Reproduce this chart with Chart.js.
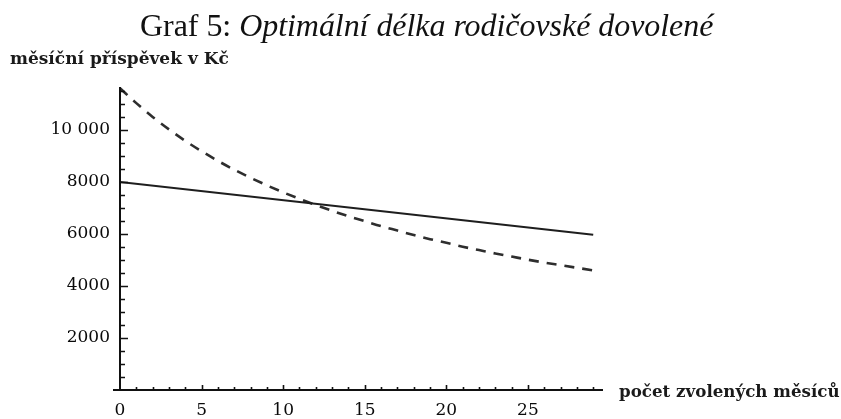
<!DOCTYPE html>
<html>
<head>
<meta charset="utf-8">
<script src="https://cdn.jsdelivr.net/npm/chart.js@4.4.1/dist/chart.umd.min.js"></script>
<style>
  html, body { margin: 0; padding: 0; background: #fff; }
  #wrap { position: relative; width: 841px; height: 419px; overflow: hidden; }
  #c { position: absolute; left: 0; top: 0; }
  .t { position: absolute; white-space: nowrap; color: #111; }
  #title { left: 140px; top: 9px; font-family: "Liberation Serif", "Times New Roman", serif; font-size: 32px; line-height: 32px; letter-spacing: -0.05px; }
  #title i { font-style: italic; }
  #ytitle { left: 10px; top: 50px; font-family: "DejaVu Serif", serif; font-size: 17px; font-weight: bold; line-height: 17px; color: #1a1a1a; }
  #xtitle { left: 619px; top: 383px; font-family: "DejaVu Serif", serif; font-size: 16.7px; font-weight: bold; line-height: 17px; color: #1a1a1a; }
</style>
</head>
<body>
<div id="wrap">
  <canvas id="c" width="841" height="419"></canvas>
  <div class="t" id="title">Graf 5: <i>Optimální délka rodičovské dovolené</i></div>
  <div class="t" id="ytitle">měsíční příspěvek v Kč</div>
  <div class="t" id="xtitle">počet zvolených měsíců</div>
</div>
<script>
// ---- data ----
const solidMonths = [0, 29];
const solidValues = [8000, 5970];

const dashedMonths = [0,1,2,3,4,5,6,7,8,9,10,11,12,13,14,15,16,17,18,19,20,21,22,23,24,25,26,27,28,29];
const dashedValues = [11600,11030,10500,10020,9580,9180,8810,8470,8160,7870,7600,7350,7110,6890,6680,6490,6300,6130,5960,5800,5660,5510,5380,5250,5130,5010,4900,4800,4700,4600];

const xTickValues = [0, 5, 10, 15, 20, 25];
const yTickValues = [2000, 4000, 6000, 8000, 10000];
const xMinorValues = [1,2,3,4,6,7,8,9,11,12,13,14,16,17,18,19,21,22,23,24,26,27,28,29];
const yMinorValues = [500,1000,1500,2500,3000,3500,4500,5000,5500,6500,7000,7500,8500,9000,9500,10500,11000,11500];

const toPoints = (xs, ys) => xs.map((x, i) => ({ x: x, y: ys[i] }));

function fmt(v) {
  const s = String(v);
  return s.length > 4 ? s.slice(0, s.length - 3) + ' ' + s.slice(-3) : s;
}

const axisPlugin = {
  id: 'mathAxes',
  afterDatasetsDraw(chart) {
    const ctx = chart.ctx;
    const xs = chart.scales.x, ys = chart.scales.y;
    const x0 = xs.getPixelForValue(0);
    const y0 = ys.getPixelForValue(0);
    ctx.save();
    ctx.strokeStyle = '#111';
    ctx.lineCap = 'butt';
    ctx.lineWidth = 2;
    ctx.beginPath();
    ctx.moveTo(x0, y0 + 1);
    ctx.lineTo(x0, ys.top);
    ctx.moveTo(x0 - 7, y0);
    ctx.lineTo(xs.right, y0);
    ctx.stroke();
    ctx.lineWidth = 1.6;
    ctx.beginPath();
    yTickValues.forEach(v => { const p = Math.round(ys.getPixelForValue(v)) + 0.5; ctx.moveTo(x0, p); ctx.lineTo(x0 + 8, p); });
    yMinorValues.forEach(v => { const p = Math.round(ys.getPixelForValue(v)) + 0.5; ctx.moveTo(x0, p); ctx.lineTo(x0 + 5, p); });
    xTickValues.forEach(v => { if (v === 0) return; const p = Math.round(xs.getPixelForValue(v)) + 0.5; ctx.moveTo(p, y0); ctx.lineTo(p, y0 - 5); });
    xMinorValues.forEach(v => { const p = Math.round(xs.getPixelForValue(v)) + 0.5; ctx.moveTo(p, y0); ctx.lineTo(p, y0 - 3); });
    ctx.stroke();
    ctx.restore();
  }
};

new Chart(document.getElementById('c'), {
  type: 'scatter',
  data: {
    datasets: [
      {
        data: toPoints(solidMonths, solidValues),
        showLine: true,
        borderColor: '#1e1e1e',
        borderWidth: 2,
        pointRadius: 0,
        tension: 0
      },
      {
        data: toPoints(dashedMonths, dashedValues),
        showLine: true,
        borderColor: '#2e2e2e',
        borderWidth: 2.6,
        borderDash: [10, 8],
        pointRadius: 0,
        cubicInterpolationMode: 'monotone',
        tension: 0.4
      }
    ]
  },
  options: {
    responsive: false,
    animation: false,
    events: [],
    layout: { padding: { left: 0, right: 238, top: 87, bottom: 0 } },
    plugins: { legend: { display: false }, tooltip: { enabled: false }, title: { display: false } },
    scales: {
      x: {
        type: 'linear',
        min: 0,
        max: 29.6,
        grid: { display: false, drawTicks: false },
        border: { display: false },
        afterBuildTicks: s => { s.ticks = xTickValues.map(v => ({ value: v })); },
        afterFit: s => { s.height = 29; },
        ticks: {
          autoSkip: false,
          maxRotation: 0,
          padding: 10,
          color: '#0a0a0a',
          font: { family: '"DejaVu Serif", serif', size: 17 },
          callback: v => String(v)
        }
      },
      y: {
        type: 'linear',
        min: 0,
        max: 11650,
        grid: { display: false, drawTicks: false },
        border: { display: false },
        afterBuildTicks: s => { s.ticks = yTickValues.map(v => ({ value: v })); },
        afterFit: s => { s.width = 120; },
        ticks: {
          autoSkip: false,
          padding: 10,
          color: '#0a0a0a',
          font: { family: '"DejaVu Serif", serif', size: 17 },
          callback: v => fmt(v)
        }
      }
    }
  },
  plugins: [axisPlugin]
});
</script>
</body>
</html>
